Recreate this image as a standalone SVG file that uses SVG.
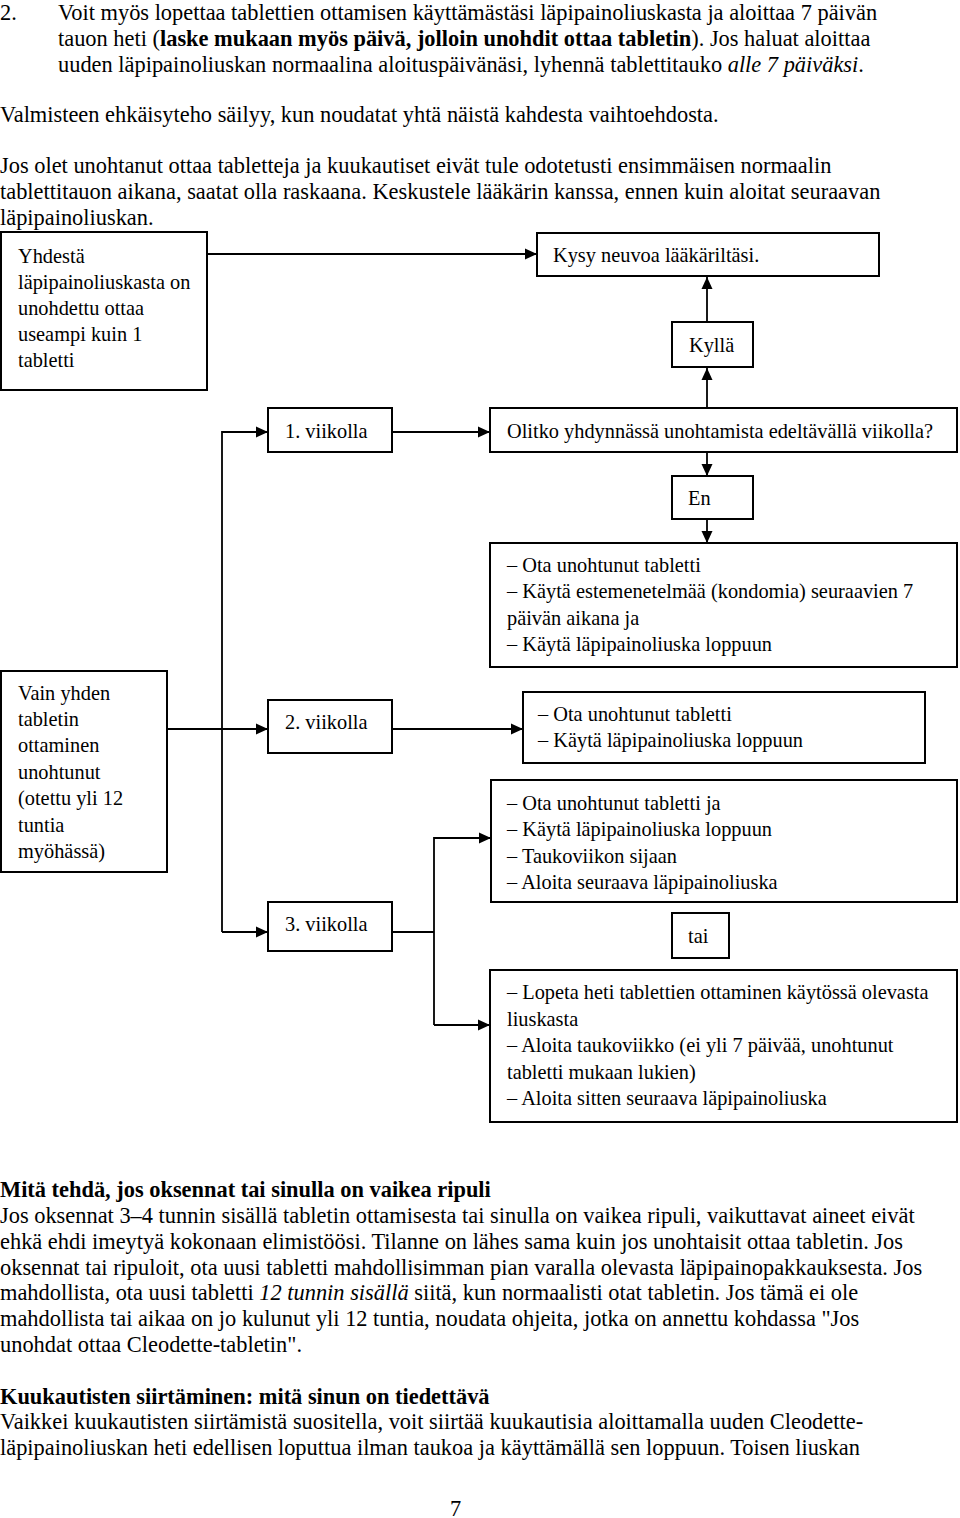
<svg xmlns="http://www.w3.org/2000/svg" width="960" height="1518" viewBox="0 0 960 1518">
<style>
text{font-family:"Liberation Serif","Times New Roman",serif;font-size:22.4px;fill:#000}
.t text{font-size:22px}
.b{font-weight:bold}
.i{font-style:italic}
.box{fill:#fff;stroke:#000;stroke-width:2}
.con{fill:none;stroke:#000;stroke-width:1.8}
</style>
<defs>
<marker id="ah" markerUnits="userSpaceOnUse" markerWidth="12" markerHeight="12" viewBox="0 0 12 12" refX="12" refY="6" orient="auto">
<path d="M0,0.5 L12,6 L0,11.5 Z" fill="#000"/>
</marker>
</defs>
<rect width="960" height="1518" fill="#fff"/>
<g id="intro">
<text x="0" y="20">2.</text>
<text x="58" y="20">Voit myös lopettaa tablettien ottamisen käyttämästäsi läpipainoliuskasta ja aloittaa 7 päivän</text>
<text x="58" y="46">tauon heti (<tspan class="b">laske mukaan myös päivä, jolloin unohdit ottaa tabletin</tspan>). Jos haluat aloittaa</text>
<text x="58" y="72">uuden läpipainoliuskan normaalina aloituspäivänäsi, lyhennä tablettitauko <tspan class="i">alle 7 päiväksi</tspan>.</text>
<text x="0" y="122">Valmisteen ehkäisyteho säilyy, kun noudatat yhtä näistä kahdesta vaihtoehdosta.</text>
<text x="0" y="173">Jos olet unohtanut ottaa tabletteja ja kuukautiset eivät tule odotetusti ensimmäisen normaalin</text>
<text x="0" y="199">tablettitauon aikana, saatat olla raskaana. Keskustele lääkärin kanssa, ennen kuin aloitat seuraavan</text>
<text x="0" y="225">läpipainoliuskan.</text>
</g>
<g id="connectors">
<path class="con" d="M207,254 H537" marker-end="url(#ah)"/>
<path class="con" d="M707,322 V277" marker-end="url(#ah)"/>
<path class="con" d="M707,408 V368" marker-end="url(#ah)"/>
<path class="con" d="M392,432 H490" marker-end="url(#ah)"/>
<path class="con" d="M707,452 V476" marker-end="url(#ah)"/>
<path class="con" d="M707,519 V543" marker-end="url(#ah)"/>
<path class="con" d="M222,932 V432 H268" marker-end="url(#ah)"/>
<path class="con" d="M222,932 H268" marker-end="url(#ah)"/>
<path class="con" d="M167,729 H268" marker-end="url(#ah)"/>
<path class="con" d="M392,729 H523" marker-end="url(#ah)"/>
<path class="con" d="M392,932 H434"/>
<path class="con" d="M434,1025 V838 H491" marker-end="url(#ah)"/>
<path class="con" d="M434,1025 H490" marker-end="url(#ah)"/>
</g>
<g id="n-yhdesta">
<rect class="box" x="1" y="232" width="206" height="158"/>
<g class="t" transform="translate(18 0) scale(0.925 1)">
<text x="0" y="263">Yhdestä</text>
<text x="0" y="289">läpipainoliuskasta on</text>
<text x="0" y="315">unohdettu ottaa</text>
<text x="0" y="341">useampi kuin 1</text>
<text x="0" y="367">tabletti</text>
</g>
</g>
<g id="n-kysy">
<rect class="box" x="537" y="233" width="342" height="43"/>
<g class="t" transform="translate(553 0) scale(0.925 1)"><text x="0" y="262">Kysy neuvoa lääkäriltäsi.</text></g>
</g>
<g id="n-kylla">
<rect class="box" x="672" y="322" width="81" height="45"/>
<g class="t" transform="translate(689 0) scale(0.925 1)"><text x="0" y="352">Kyllä</text></g>
</g>
<g id="n-viikko1">
<rect class="box" x="268" y="408" width="124" height="44"/>
<g class="t" transform="translate(285 0) scale(0.925 1)"><text x="0" y="438">1. viikolla</text></g>
</g>
<g id="n-olitko">
<rect class="box" x="490" y="408" width="467" height="44"/>
<g class="t" transform="translate(507 0) scale(0.925 1)"><text x="0" y="438">Olitko yhdynnässä unohtamista edeltävällä viikolla?</text></g>
</g>
<g id="n-en">
<rect class="box" x="672" y="476" width="81" height="43"/>
<g class="t" transform="translate(688 0) scale(0.925 1)"><text x="0" y="505">En</text></g>
</g>
<g id="n-ohje1">
<rect class="box" x="490" y="543" width="467" height="124"/>
<g class="t" transform="translate(507 0) scale(0.925 1)">
<text x="0" y="572">– Ota unohtunut tabletti</text>
<text x="0" y="598">– Käytä estemenetelmää (kondomia) seuraavien 7</text>
<text x="0" y="625">päivän aikana ja</text>
<text x="0" y="651">– Käytä läpipainoliuska loppuun</text>
</g>
</g>
<g id="n-vain">
<rect class="box" x="1" y="671" width="166" height="201"/>
<g class="t" transform="translate(18 0) scale(0.925 1)">
<text x="0" y="700">Vain yhden</text>
<text x="0" y="726">tabletin</text>
<text x="0" y="752">ottaminen</text>
<text x="0" y="779">unohtunut</text>
<text x="0" y="805">(otettu yli 12</text>
<text x="0" y="832">tuntia</text>
<text x="0" y="858">myöhässä)</text>
</g>
</g>
<g id="n-viikko2">
<rect class="box" x="268" y="700" width="124" height="53"/>
<g class="t" transform="translate(285 0) scale(0.925 1)"><text x="0" y="729">2. viikolla</text></g>
</g>
<g id="n-ohje2">
<rect class="box" x="523" y="692" width="402" height="71"/>
<g class="t" transform="translate(538 0) scale(0.925 1)">
<text x="0" y="721">– Ota unohtunut tabletti</text>
<text x="0" y="747">– Käytä läpipainoliuska loppuun</text>
</g>
</g>
<g id="n-ohje3">
<rect class="box" x="491" y="780" width="466" height="122"/>
<g class="t" transform="translate(507 0) scale(0.925 1)">
<text x="0" y="810">– Ota unohtunut tabletti ja</text>
<text x="0" y="836">– Käytä läpipainoliuska loppuun</text>
<text x="0" y="863">– Taukoviikon sijaan</text>
<text x="0" y="889">– Aloita seuraava läpipainoliuska</text>
</g>
</g>
<g id="n-viikko3">
<rect class="box" x="268" y="902" width="124" height="49"/>
<g class="t" transform="translate(285 0) scale(0.925 1)"><text x="0" y="931">3. viikolla</text></g>
</g>
<g id="n-tai">
<rect class="box" x="672" y="913" width="57" height="45"/>
<g class="t" transform="translate(688 0) scale(0.925 1)"><text x="0" y="943">tai</text></g>
</g>
<g id="n-ohje4">
<rect class="box" x="490" y="970" width="467" height="152"/>
<g class="t" transform="translate(507 0) scale(0.925 1)">
<text x="0" y="999">– Lopeta heti tablettien ottaminen käytössä olevasta</text>
<text x="0" y="1026">liuskasta</text>
<text x="0" y="1052">– Aloita taukoviikko (ei yli 7 päivää, unohtunut</text>
<text x="0" y="1079">tabletti mukaan lukien)</text>
<text x="0" y="1105">– Aloita sitten seuraava läpipainoliuska</text>
</g>
</g>
<g id="outro">
<text class="b" x="0" y="1197">Mitä tehdä, jos oksennat tai sinulla on vaikea ripuli</text>
<text x="0" y="1223">Jos oksennat 3–4 tunnin sisällä tabletin ottamisesta tai sinulla on vaikea ripuli, vaikuttavat aineet eivät</text>
<text x="0" y="1249">ehkä ehdi imeytyä kokonaan elimistöösi. Tilanne on lähes sama kuin jos unohtaisit ottaa tabletin. Jos</text>
<text x="0" y="1275">oksennat tai ripuloit, ota uusi tabletti mahdollisimman pian varalla olevasta läpipainopakkauksesta. Jos</text>
<text x="0" y="1300">mahdollista, ota uusi tabletti <tspan class="i">12 tunnin sisällä</tspan> siitä, kun normaalisti otat tabletin. Jos tämä ei ole</text>
<text x="0" y="1326">mahdollista tai aikaa on jo kulunut yli 12 tuntia, noudata ohjeita, jotka on annettu kohdassa "Jos</text>
<text x="0" y="1352">unohdat ottaa Cleodette-tabletin".</text>
<text class="b" x="0" y="1404">Kuukautisten siirtäminen: mitä sinun on tiedettävä</text>
<text x="0" y="1429">Vaikkei kuukautisten siirtämistä suositella, voit siirtää kuukautisia aloittamalla uuden Cleodette-</text>
<text x="0" y="1455">läpipainoliuskan heti edellisen loputtua ilman taukoa ja käyttämällä sen loppuun. Toisen liuskan</text>
<text x="450" y="1516">7</text>
</g>
</svg>
